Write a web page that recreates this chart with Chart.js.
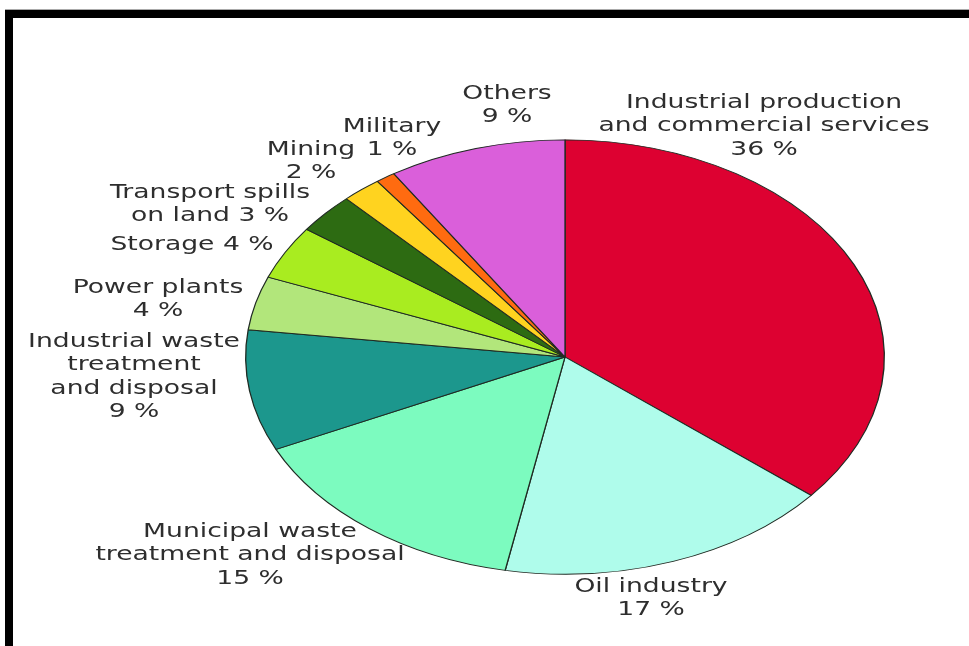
<!DOCTYPE html>
<html>
<head>
<meta charset="utf-8">
<script src="https://cdn.jsdelivr.net/npm/chart.js@4.4.1/dist/chart.umd.min.js"></script>
<style>
    html, body { margin: 0; padding: 0; background: #fff; overflow: hidden; }
    .wrap { position: relative; width: 969px; height: 646px; }
    .frame {
        position: absolute; left: 5px; top: 10px; right: 0; bottom: -20px;
        border-top: 8px solid #000; border-left: 8px solid #000;
        box-shadow: 0 -1px 0 #aaa;
        pointer-events: none;
    }
    canvas { position: absolute; left: 0; top: 0; }
</style>
</head>
<body>
<div class="wrap">
    <canvas id="sources" width="969" height="646"></canvas>
    <div class="frame"></div>
</div>
<script>
// Share of contaminated sites by source (%), clockwise from 12 o'clock
const categories = [
    'Industrial production and commercial services',
    'Oil industry',
    'Municipal waste treatment and disposal',
    'Industrial waste treatment and disposal',
    'Power plants',
    'Storage',
    'Transport spills on land',
    'Mining',
    'Military',
    'Others'
];
const shares = [36, 17, 15, 9, 4, 4, 3, 2, 1, 9];
const sliceColors = [
    '#dd0131', '#affceb', '#7cfbbf', '#1c978d', '#b2e67b',
    '#a9ec20', '#2d6b12', '#ffd31f', '#ff6b10', '#da5fda'
];

// label text per slice, '{v}' is replaced with the share
const labelLines = [
    ['Industrial production', 'and commercial services', '{v}'],
    ['Oil industry', '{v}'],
    ['Municipal waste', 'treatment and disposal', '{v}'],
    ['Industrial waste', 'treatment', 'and disposal', '{v}'],
    ['Power plants', '{v}'],
    ['Storage {v}'],
    ['Transport spills', 'on land {v}'],
    ['Mining', '{v}'],
    ['Military', '{v}'],
    ['Others', '{v}']
];
// where each label block sits: [centre x, first line y]
const labelPos = [
    [764, 103], [651, 587], [250, 532], [134, 342], [158, 288],
    [192, 245], [210, 193], [311, 150], [392, 127], [507, 94]
];

const PIE_CENTER_Y = 357;
const PIE_SQUASH = 0.68;   // pie is drawn as a flattened ellipse
const TEXT_STRETCH = 1.4;  // labels are set wide
const LINE_GAP = 23.5;

const squash = {
    id: 'squash',
    beforeDatasetsDraw(chart) {
        const arc = chart.getDatasetMeta(0).data[0];
        const ctx = chart.ctx;
        ctx.save();
        ctx.translate(0, PIE_CENTER_Y);
        ctx.scale(1, PIE_SQUASH);
        ctx.translate(0, -arc.y);
    },
    afterDatasetsDraw(chart) {
        chart.ctx.restore();
    }
};

const sliceLabels = {
    id: 'sliceLabels',
    afterDraw(chart) {
        const ctx = chart.ctx;
        ctx.save();
        ctx.font = '19px "DejaVu Sans"';
        ctx.fillStyle = '#2e2e2e';
        ctx.textAlign = 'center';
        ctx.textBaseline = 'middle';
        labelLines.forEach(function (lines, i) {
            const pos = labelPos[i];
            lines.forEach(function (line, j) {
                const text = line.replace('{v}', shares[i] + ' %');
                ctx.save();
                ctx.translate(pos[0], pos[1] + j * LINE_GAP);
                ctx.scale(TEXT_STRETCH, 1);
                ctx.fillText(text, 0, 0);
                ctx.restore();
            });
        });
        ctx.restore();
    }
};

var ctx = document.getElementById('sources').getContext('2d');
var sourcesChart = new Chart(ctx, {
    type: 'pie',
    data: {
        labels: categories,
        datasets: [{
            data: shares,
            backgroundColor: sliceColors,
            borderColor: '#1f2a22',
            borderWidth: 1.3
        }]
    },
    options: {
        responsive: false,
        animation: false,
        devicePixelRatio: 1,
        layout: {
            padding: { left: 245, right: 84, top: 3, bottom: 3 }
        },
        plugins: {
            legend: { display: false },
            tooltip: { enabled: false }
        }
    },
    plugins: [squash, sliceLabels]
});
</script>
</body>
</html>
